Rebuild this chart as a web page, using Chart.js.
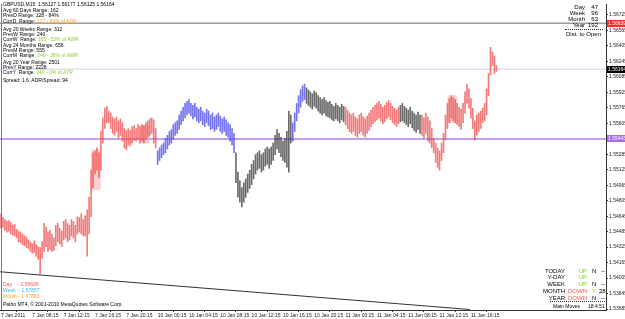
<!DOCTYPE html>
<html><head><meta charset="utf-8">
<script src="https://cdn.jsdelivr.net/npm/chart.js@4.4.1/dist/chart.umd.min.js"></script>
<style>
html,body{margin:0;padding:0;background:#fff;}
#wrap{position:relative;width:625px;height:319px;overflow:hidden;}
canvas{position:absolute;left:0;top:0;}
.t{position:absolute;font-family:"Liberation Sans",Arial,sans-serif;font-size:5px;line-height:5px;white-space:pre;color:#000;}
.m{font-size:6px;line-height:6px;}
.r{text-align:right;}
.g{color:#8ad21e;} .o{color:#ffa520;} .red{color:#ff5252;} .cy{color:#2fb8f0;}
.dot{position:absolute;border-top:1px dotted #333;height:0;}
.box{position:absolute;left:607px;width:18px;height:7px;font-family:"Liberation Sans",Arial,sans-serif;font-size:5px;line-height:7px;color:#fff;padding-left:1px;box-sizing:border-box;white-space:pre;overflow:hidden;}
</style></head><body>
<div id="wrap">
<canvas id="c" width="625" height="319"></canvas>

<div class="t" style="left:3px;top:2px">GBPUSD,M15  1.56127 1.56177 1.56125 1.56164</div>
<div class="t" style="left:3px;top:8px">Avg 60 Days Range: 162</div>
<div class="t" style="left:3px;top:13px">PrevD Range: 128 - 84%</div>
<div class="t" style="left:3px;top:19px">CurrD  Range: <span class="o">127 - 83% of ADR</span></div>
<div class="t" style="left:3px;top:27px">Avg 20 Weeks Range: 312</div>
<div class="t" style="left:3px;top:32px">PrevW Range: 240</div>
<div class="t" style="left:3px;top:37px">CurrW  Range: <span class="g">165 - 53% of AWR</span></div>
<div class="t" style="left:3px;top:43px">Avg 24 Months Range: 656</div>
<div class="t" style="left:3px;top:48px">PrevM Range: 555</div>
<div class="t" style="left:3px;top:53px">CurrM  Range: <span class="g">240 - 36% of AMR</span></div>
<div class="t" style="left:3px;top:60px">Avg 20 Year Range: 2501</div>
<div class="t" style="left:3px;top:65px">PrevY Range: 2228</div>
<div class="t" style="left:3px;top:70px">CurrY  Range: <span class="g">240 - 0% of AYR</span></div>
<div class="t" style="left:3px;top:78px">Spread: 1.6  ADR/Spread: 94</div>

<div class="t m r" style="left:545px;width:40px;top:4px">Day</div>
<div class="t m r" style="left:585px;width:13px;top:4px">47</div>
<div class="t m r" style="left:545px;width:40px;top:10px">Week</div>
<div class="t m r" style="left:585px;width:13px;top:10px">96</div>
<div class="t m r" style="left:545px;width:40px;top:16px">Month</div>
<div class="t m r" style="left:585px;width:13px;top:16px">63</div>
<div class="t m r" style="left:545px;width:40px;top:22px">Year</div>
<div class="t m r" style="left:585px;width:13px;top:22px">192</div>
<div class="dot" style="left:565px;width:38px;top:29px"></div>
<div class="t m" style="left:566px;top:31px">Dist. to Open</div>

<div class="t" style="left:3px;top:282px"><span class="red">Day    - 1.56639</span></div>
<div class="t" style="left:3px;top:288px"><span class="cy">Week  - 1.57857</span></div>
<div class="t" style="left:3px;top:294px"><span class="o">Month - 1.47893</span></div>
<div class="t" style="left:3px;top:302px">Patho MT4, © 2001-2010 MetaQuotes Software Corp.</div>

<div class="t m r" style="left:525px;width:40px;top:268px">TODAY</div>
<div class="t m r g" style="left:567px;width:20px;top:268px">UP</div>
<div class="t m" style="left:592px;top:268px">N</div>
<div class="t m" style="left:601px;top:268px">--</div>
<div class="t m r" style="left:525px;width:40px;top:274px">Y-DAY</div>
<div class="t m r g" style="left:567px;width:20px;top:274px">UP</div>
<div class="t m r" style="left:525px;width:40px;top:281px">WEEK</div>
<div class="t m r g" style="left:567px;width:20px;top:281px">UP</div>
<div class="t m" style="left:592px;top:281px">N</div>
<div class="t m" style="left:601px;top:281px">--</div>
<div class="t m r" style="left:525px;width:40px;top:288px">MONTH</div>
<div class="t m r red" style="left:557px;width:30px;top:288px">DOWN</div>
<div class="t m g" style="left:592px;top:288px">Y</div>
<div class="t m" style="left:599px;top:288px">28</div>
<div class="t m r" style="left:525px;width:40px;top:295px">YEAR</div>
<div class="t m r red" style="left:557px;width:30px;top:295px">DOWN</div>
<div class="t m" style="left:592px;top:295px">N</div>
<div class="t m" style="left:601px;top:295px">--</div>
<div class="dot" style="left:550px;width:55px;top:301px"></div>
<div class="t" style="left:553px;top:304px">Main Moves</div>
<div class="t" style="left:588px;top:304px">18:4:51</div>

<div id="bDay" class="box" style="background:#ff2a2a">1.56639</div>
<div id="bBid" class="box" style="background:#000">1.56164</div>
<div id="bLine" class="box" style="background:#a56be8">1.55443</div>
</div>

<script>
// ---- data ----
const timeLabels = ["7 Jan 2011","7 Jan 08:15","7 Jan 12:15","7 Jan 16:15","7 Jan 20:15","10 Jan 00:15","10 Jan 04:15","10 Jan 08:15","10 Jan 12:15","10 Jan 16:15","10 Jan 20:15","11 Jan 00:15","11 Jan 04:15","11 Jan 08:15","11 Jan 12:15","11 Jan 16:15"];
const barsPerLabel = 16;
const priceTicks = [1.53685,1.53845,1.54005,1.54165,1.54325,1.54485,1.54645,1.54805,1.54965,1.55125,1.55285,1.55445,1.55605,1.55765,1.55925,1.56085,1.56245,1.56405,1.56565,1.56725];

const highs = [
1.5467,1.5463,1.5461,1.5459,1.5460,1.5458,1.5455,1.5456,1.5451,1.5449,
1.5448,1.5446,1.5444,1.5443,1.5440,1.5438,1.5436,1.5439,1.5435,1.5433,
1.5432,1.5438,1.5457,1.5453,1.5448,1.5450,1.5446,1.5442,1.5455,1.5457,
1.5452,1.5449,1.5459,1.5461,1.5457,1.5455,1.5461,1.5459,1.5455,1.5464,
1.5463,1.5467,1.5461,1.5465,1.5471,1.5484,1.5512,1.5530,1.5532,1.5535,
1.5530,1.5552,1.5566,1.5576,1.5578,1.5573,1.5571,1.5567,1.5565,1.5567,
1.5563,1.5565,1.5561,1.5555,1.5553,1.5555,1.5553,1.5557,1.5558,1.5555,
1.5559,1.5557,1.5559,1.5558,1.5561,1.5563,1.5565,1.5566,1.5564,1.5555,
1.5532,1.5535,1.5538,1.5540,1.5545,1.5548,1.5552,1.5554,1.5559,1.5561,
1.5563,1.5569,1.5573,1.5577,1.5581,1.5583,1.5585,1.5581,1.5579,1.5581,
1.5577,1.5575,1.5577,1.5573,1.5571,1.5575,1.5573,1.5569,1.5571,1.5567,
1.5569,1.5571,1.5568,1.5565,1.5567,1.5564,1.5561,1.5559,1.5555,1.5550,
1.5530,1.5510,1.5501,1.5494,1.5499,1.5503,1.5508,1.5512,1.5518,1.5522,
1.5528,1.5530,1.5532,1.5528,1.5530,1.5534,1.5536,1.5534,1.5536,1.5540,
1.5548,1.5554,1.5550,1.5546,1.5542,1.5545,1.5552,1.5573,1.5569,1.5561,
1.5571,1.5581,1.5589,1.5595,1.5599,1.5601,1.5597,1.5595,1.5593,1.5591,
1.5594,1.5592,1.5589,1.5587,1.5585,1.5587,1.5584,1.5582,1.5583,1.5580,
1.5578,1.5581,1.5579,1.5577,1.5580,1.5578,1.5577,1.5574,1.5571,1.5569,
1.5571,1.5567,1.5565,1.5569,1.5571,1.5567,1.5565,1.5568,1.5571,1.5574,
1.5577,1.5579,1.5581,1.5583,1.5580,1.5577,1.5579,1.5582,1.5584,1.5581,
1.5578,1.5576,1.5574,1.5577,1.5579,1.5581,1.5578,1.5576,1.5574,1.5577,
1.5573,1.5571,1.5569,1.5572,1.5569,1.5569,1.5566,1.5571,1.5567,1.5563,
1.5555,1.5545,1.5540,1.5535,1.5532,1.5540,1.5550,1.5569,1.5581,1.5586,
1.5589,1.5587,1.5585,1.5581,1.5577,1.5575,1.5581,1.5593,1.5601,1.5596,
1.5586,1.5576,1.5563,1.5569,1.5571,1.5573,1.5576,1.5581,1.5596,1.5612,
1.5639,1.5634,1.5630,1.5620];
const lows = [
1.5452,1.5453,1.5450,1.5448,1.5449,1.5446,1.5445,1.5444,1.5442,1.5438,
1.5437,1.5435,1.5434,1.5432,1.5431,1.5428,1.5426,1.5427,1.5423,1.5420,
1.5405,1.5421,1.5428,1.5433,1.5428,1.5430,1.5428,1.5429,1.5434,1.5438,
1.5436,1.5433,1.5440,1.5442,1.5438,1.5440,1.5444,1.5442,1.5438,1.5446,
1.5448,1.5446,1.5444,1.5444,1.5423,1.5446,1.5464,1.5494,1.5508,1.5512,
1.5504,1.5512,1.5540,1.5555,1.5561,1.5561,1.5555,1.5550,1.5548,1.5552,
1.5545,1.5548,1.5542,1.5535,1.5533,1.5538,1.5537,1.5540,1.5543,1.5542,
1.5544,1.5540,1.5542,1.5540,1.5544,1.5546,1.5548,1.5550,1.5540,1.5535,
1.5518,1.5522,1.5525,1.5528,1.5530,1.5534,1.5538,1.5540,1.5544,1.5548,
1.5550,1.5554,1.5559,1.5563,1.5566,1.5569,1.5571,1.5568,1.5565,1.5567,
1.5563,1.5561,1.5563,1.5559,1.5557,1.5561,1.5558,1.5554,1.5555,1.5552,
1.5554,1.5557,1.5552,1.5550,1.5552,1.5548,1.5546,1.5542,1.5538,1.5530,
1.5499,1.5484,1.5479,1.5474,1.5479,1.5484,1.5489,1.5493,1.5497,1.5503,
1.5508,1.5512,1.5514,1.5510,1.5512,1.5516,1.5518,1.5514,1.5518,1.5522,
1.5528,1.5534,1.5530,1.5526,1.5522,1.5520,1.5515,1.5510,1.5540,1.5542,
1.5552,1.5563,1.5571,1.5577,1.5583,1.5585,1.5581,1.5579,1.5577,1.5575,
1.5578,1.5576,1.5573,1.5571,1.5569,1.5571,1.5568,1.5567,1.5566,1.5564,
1.5563,1.5565,1.5563,1.5561,1.5564,1.5562,1.5559,1.5555,1.5552,1.5550,
1.5552,1.5548,1.5546,1.5550,1.5552,1.5548,1.5546,1.5550,1.5553,1.5557,
1.5560,1.5562,1.5564,1.5566,1.5563,1.5560,1.5562,1.5565,1.5567,1.5564,
1.5561,1.5559,1.5557,1.5560,1.5562,1.5563,1.5561,1.5559,1.5557,1.5560,
1.5556,1.5553,1.5551,1.5554,1.5550,1.5548,1.5545,1.5550,1.5542,1.5540,
1.5535,1.5530,1.5520,1.5515,1.5512,1.5522,1.5530,1.5543,1.5555,1.5561,
1.5566,1.5563,1.5561,1.5559,1.5557,1.5554,1.5561,1.5571,1.5581,1.5576,
1.5566,1.5555,1.5543,1.5548,1.5552,1.5555,1.5561,1.5563,1.5569,1.5589,
1.5610,1.5620,1.5612,1.5614];
// colour of each run of bars: r = red, b = blue, k = black
const colorRuns = [["r",80],["b",40],["k",29],["b",7],["k",20],["r",28],["k",11],["r",39]];
// light pink shaded zones (bar index, high, low)
const shadeIdx  = [48.5, 73.5, 230.5];
const shadeHigh = [1.5533, 1.5558, 1.5589];
const shadeLow  = [1.5492, 1.5540, 1.5561];
// horizontal levels
const dayLevel = 1.56639, bidLevel = 1.56164, hLineLevel = 1.55443;
// trend line (bar index, price)
const trendX = [-0.5, 239.5];
const trendY = [1.5407, 1.5368];

// ---- chart ----
const FONT = '"Liberation Sans", Arial, sans-serif';
const xMin = -0.5, xMax = 309;
const yMin = 1.53675, yMax = 1.56837;
const palette = {r:'rgba(238,70,70,0.72)', b:'rgba(70,70,235,0.75)', k:'rgba(50,50,50,0.72)'};
const barColors = [];
colorRuns.forEach(([c,n]) => { for (let j=0;j<n;j++) barColors.push(palette[c]); });
const barData = highs.map((h,i) => ({x:i, y:[lows[i], h]}));
const shadeData = shadeIdx.map((x,i) => ({x, y:[shadeLow[i], shadeHigh[i]]}));
const hline = v => [{x:xMin,y:v},{x:xMax,y:v}];

const frame = {
  id:'frame',
  afterDatasetsDraw(c){
    const a = c.chartArea, g = c.ctx;
    g.save(); g.strokeStyle='#777'; g.lineWidth=1;
    g.beginPath(); g.moveTo(a.left+1.5,a.top); g.lineTo(a.left+1.5,a.bottom); g.stroke();
    g.restore();
  }
};

const chart = new Chart(document.getElementById('c'), {
  type:'bar',
  data:{datasets:[
    {type:'bar', data:shadeData, backgroundColor:'rgba(255,150,150,0.45)', barThickness:9, grouped:false, order:5},
    {type:'bar', data:barData, backgroundColor:barColors, barThickness:1, grouped:false, order:4},
    {type:'line', data:hline(hLineLevel), borderColor:'rgba(190,150,240,0.9)', borderWidth:2, pointRadius:0, order:6},
    {type:'line', data:hline(bidLevel), borderColor:'#d9cbe6', borderWidth:1, pointRadius:0, order:6},
    {type:'line', data:hline(dayLevel), borderColor:'#6e6e6e', borderWidth:1, pointRadius:0, order:1},
    {type:'line', data:trendX.map((x,i)=>({x, y:trendY[i]})), borderColor:'#333', borderWidth:1, pointRadius:0, order:1}
  ]},
  options:{
    animation:false, responsive:false, devicePixelRatio:1,
    layout:{padding:0},
    plugins:{legend:{display:false}, tooltip:{enabled:false}},
    scales:{
      x:{type:'linear', min:xMin, max:xMax, offset:false,
        afterBuildTicks:s => { s.ticks = timeLabels.map((_,k)=>({value:k*barsPerLabel})); },
        afterFit:s => { s.height = 9; },
        ticks:{font:{size:5, family:FONT}, color:'#222', align:'start', maxRotation:0, autoSkip:false, padding:1,
          callback:(v,i)=>timeLabels[i]},
        grid:{drawOnChartArea:false, tickLength:2, color:'#333'},
        border:{color:'#333'}
      },
      y:{position:'right', min:yMin, max:yMax,
        afterBuildTicks:s => { s.ticks = priceTicks.map(v=>({value:v})); },
        afterFit:s => { s.width = 19; },
        ticks:{font:{size:5, family:FONT}, color:'#222', padding:1, autoSkip:false,
          callback:v=>Number(v).toFixed(5)},
        grid:{drawOnChartArea:false, tickLength:2, color:'#333'},
        border:{color:'#333'}
      }
    }
  },
  plugins:[frame]
});

// axis price boxes placed through the y scale
const ys = chart.scales.y;
[['bDay',dayLevel],['bBid',bidLevel],['bLine',hLineLevel]].forEach(([id,v])=>{
  document.getElementById(id).style.top = (ys.getPixelForValue(v)-3.5)+'px';
});
</script>
</body></html>
